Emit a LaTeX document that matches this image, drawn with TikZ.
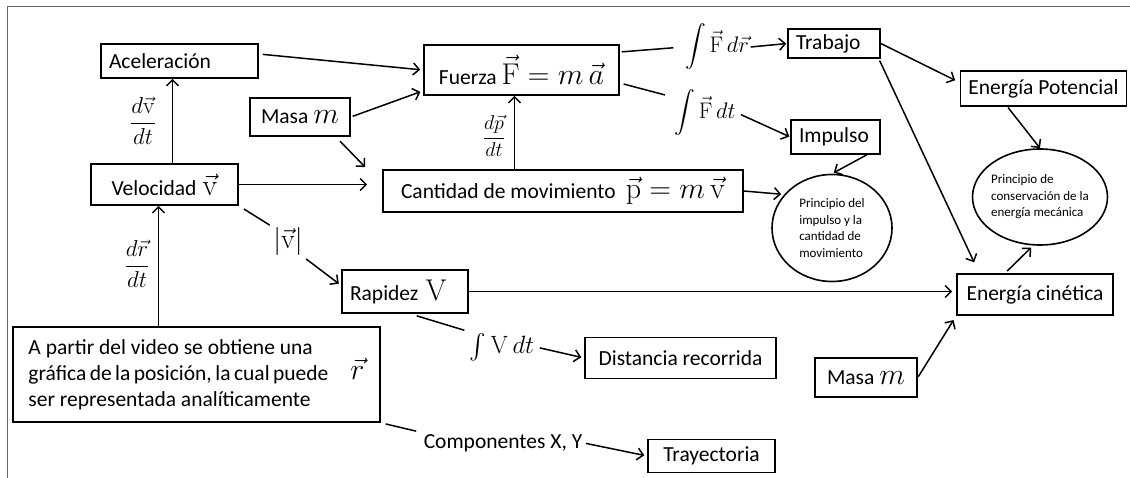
\RequirePackage{fix-cm}
\documentclass[tikz,border=0pt]{standalone}
\usepackage{amsmath}
\usepackage[no-math]{fontspec}
\setmainfont{Carlito}
\usetikzlibrary{arrows.meta,shapes.geometric}
\newcommand{\gmath}[1]{{\fontsize{30}{30}\selectfont$#1$}}
\begin{document}
\begin{tikzpicture}[x=1pt, y=-1pt, >={Straight Barb[length=6pt,width=12pt]}, line width=1.5pt,
	every node/.style={font=\fontsize{21.5}{24}\selectfont},
	box/.style={draw, line width=1.6pt, inner xsep=8pt, inner ysep=0pt},
	circ/.style={draw, ellipse, line width=1.6pt, inner sep=0pt, align=left, font=\fontsize{13}{16.5}\selectfont},
	lbl/.style={inner sep=1pt}]
	\useasboundingbox (0,0) rectangle (1130,478);
	\draw[black!60, line width=1pt] (7,478) -- (7,7) -- (1130,7);
	\node (acel) at (179.5,61) [box, minimum width=157pt, minimum height=34pt, text width=141pt] {Aceleración};
	\node (masaA) at (300,117) [box, minimum width=100pt, minimum height=38pt] {Masa \gmath{m}};
	\node (velo) at (164.5,184.5) [box, minimum width=147pt, minimum height=41pt] {Velocidad\hspace{6pt}\gmath{\vec{\mathrm{v}}}};
	\node (fuer) at (521.5,70) [box, minimum width=195pt, minimum height=50pt] {Fuerza \gmath{\vec{\mathrm{F}}=m\,\vec{a}}};
	\node (cant) at (563,191) [box, minimum width=360pt, minimum height=42pt] {Cantidad de movimiento\hspace{10pt}\gmath{\vec{\mathrm{p}}=m\,\vec{\mathrm{v}}}};
	\node (trab) at (834,43.5) [box, minimum width=92pt, minimum height=29pt, text width=76pt] {Trabajo};
	\node (imp) at (835.5,137) [box, minimum width=89pt, minimum height=34pt, text width=73pt] {Impulso};
	\node (epot) at (1043.5,88.5) [box, minimum width=165pt, minimum height=35pt] {Energía Potencial};
	\node (ellA) at (832,228) [circ, minimum width=120pt, minimum height=107pt] {Principio del\\impulso y la\\cantidad de\\movimiento};
	\node (ellB) at (1040,197) [circ, minimum width=135pt, minimum height=96pt, inner xsep=-3pt] {Principio de\\conservación de la\\energía mecánica};
	\node (rap) at (405,291.5) [box, minimum width=126pt, minimum height=43pt, text width=110pt] {Rapidez \gmath{\mathrm{V}}};
	\node (ecin) at (1035,294.5) [box, minimum width=156pt, minimum height=41pt] {Energía cinética};
	\node (masaB) at (866,377.5) [box, minimum width=102pt, minimum height=39pt] {Masa \gmath{m}};
	\node (pos) at (196.5,374.5) [box, minimum width=367pt, minimum height=95pt, inner xsep=13pt] {\parbox{300pt}{\fontsize{21.5}{26}\selectfont A partir del video se obtiene una\\gráfica de la posición, la cual puede\\ser representada analíticamente}\hspace{22pt}\gmath{\vec{r}}};
	\node (dist) at (680.5,358) [box, minimum width=191pt, minimum height=41pt] {Distancia recorrida};
	\node (tray) at (711.5,456) [box, minimum width=127pt, minimum height=33pt] {Trayectoria};
	\node (dvdt) at (143,121) [lbl, font=\fontsize{23}{23}\selectfont] {$\displaystyle\frac{d\vec{\mathrm{v}}}{dt}$};
	\node (drdt) at (137,264) [lbl, font=\fontsize{23}{23}\selectfont] {$\displaystyle\frac{d\vec{r}}{dt}$};
	\node (dpdt) at (494,136) [lbl, font=\fontsize{20}{20}\selectfont] {$\displaystyle\frac{d\vec{p}}{dt}$};
	\node (absv) at (288,242) [lbl, font=\fontsize{28}{28}\selectfont] {$|\vec{\mathrm{v}}|$};
	\node (intFr) at (717,47) [lbl, font=\fontsize{22.5}{22.5}\selectfont] {$\displaystyle\int\vec{\mathrm{F}}\,d\vec{r}$};
	\node (intFt) at (705,113) [lbl, font=\fontsize{22.5}{22.5}\selectfont] {$\displaystyle\int\vec{\mathrm{F}}\,dt$};
	\node (intV) at (502,347) [lbl, font=\fontsize{25}{25}\selectfont] {$\int\mathrm{V}\,dt$};
	\node (comp) at (503,443) [lbl] {Componentes X, Y};
	\draw[->] ([xshift=8pt]velo.north) -- ([xshift=8pt]velo.north |- acel.south);
	\draw[->] ([xshift=-6pt]velo.south |- pos.north) -- ([xshift=-6pt]velo.south);
	\draw[->, shorten <=4pt, shorten >=3pt] ([yshift=7pt]acel.east) -- (fuer.west);
	\draw[->, shorten <=2pt, shorten >=3pt] (masaA.east) -- ([yshift=5pt]fuer.south west);
	\draw[->, shorten <=6pt, shorten >=3pt] ([xshift=-15pt]masaA.south east) -- ([xshift=-15pt]cant.north west);
	\draw[->, shorten >=15pt] (velo.east) -- (velo.east -| cant.west);
	\draw[->] ([xshift=-7pt]fuer.south |- cant.north) -- ([xshift=-7pt]fuer.south);
	\draw[shorten <=2pt, shorten >=10pt] ([yshift=18pt]fuer.east) -- (intFr.west);
	\draw[->, shorten >=1pt] (intFr.east) -- (trab.west);
	\draw[shorten <=4pt, shorten >=8pt] ([yshift=-13pt]fuer.east) -- ([yshift=16pt]intFt.west);
	\draw[->, shorten <=4pt, shorten >=1pt] (intFt.east) -- (imp.west);
	\draw[->, shorten >=3pt] (cant.east) -- (ellA.145);
	\draw[->, shorten >=2pt] ([xshift=-14pt]imp.south east) -- (ellA.north);
	\draw[->, shorten >=5pt] (trab.east) -- ([yshift=6pt]epot.west);
	\draw[->, shorten <=2pt, shorten >=12pt] ([xshift=-2pt]trab.south east) -- ([xshift=23pt]ecin.north west);
	\draw[->, shorten <=1pt] ([xshift=-36pt]epot.south) -- (ellB.north);
	\draw[->, shorten <=3pt, shorten >=3pt] ([xshift=-30pt]ecin.north) -- (ellB.262);
	\draw[shorten <=6pt, shorten >=2pt] (velo.south east) -- (absv.north west);
	\draw[->, shorten <=2pt, shorten >=3pt] (absv.south east) -- ([yshift=6pt]rap.west);
	\draw[->, shorten >=4pt] (rap.east) -- (rap.east -| ecin.west);
	\draw[shorten <=7pt, shorten >=4pt] ([xshift=5pt]rap.south) -- (intV.north west);
	\draw[->, shorten <=4pt, shorten >=3pt] (intV.east) -- (dist.west);
	\draw[->, shorten <=1pt, shorten >=5pt] (masaB.east) -- (ecin.south west);
	\draw[shorten <=5pt, shorten >=6pt] (pos.south east) -- (comp.north west);
	\draw[->, shorten <=2pt, shorten >=3pt] (comp.east) -- (tray.west);
\end{tikzpicture}
\end{document}
